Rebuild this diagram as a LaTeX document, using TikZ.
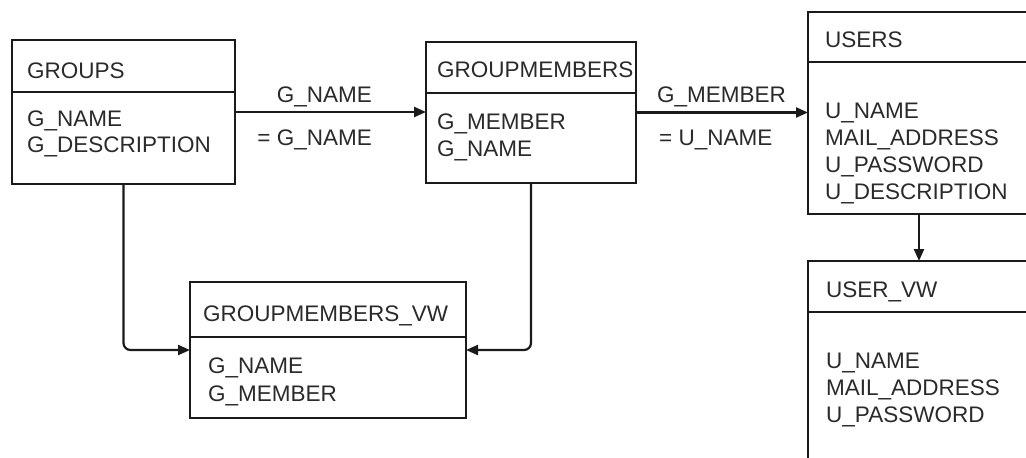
\documentclass[tikz,border=0pt]{standalone}
\usepackage{fontspec}
\setmainfont{Liberation Sans}
\usetikzlibrary{arrows.meta}
\definecolor{linec}{HTML}{1A1A1A}
\definecolor{txtc}{HTML}{2A2A2A}
\begin{document}
\begin{tikzpicture}[x=1pt,y=-1pt,
  tbl/.style={draw=linec, line width=2.2pt, rectangle, inner sep=0pt, outer sep=0pt, anchor=north west},
  lbl/.style={anchor=base west, text=txtc, inner sep=0pt, font=\fontsize{22.5}{27}\selectfont},
  lble/.style={lbl, anchor=base east},
  divl/.style={draw=linec, line width=2.2pt},
  conn/.style={draw=linec, line width=2.2pt, -{Triangle[length=12pt,width=10pt]}},
  elbow/.style={conn, rounded corners=7pt}]
\useasboundingbox (0,0) rectangle (1026,458);
\clip (0,0) rectangle (1026,458);
\fill[white] (0,0) rectangle (1026,458);

% GROUPS
\node[tbl, minimum width=223pt, minimum height=144pt] (groups) at (12,40) {};
\draw[divl] (12,92) -- (235,92);
\node[lbl] (groups-t) at (27,78) {GROUPS};
\node[lbl] (groups-f1) at (27,126) {G\_NAME};
\node[lbl] (groups-f2) at (27,152) {G\_DESCRIPTION};

% GROUPMEMBERS
\node[tbl, minimum width=210pt, minimum height=141pt] (gm) at (426,42) {};
\draw[divl] (426,93) -- (636,93);
\node[lbl] (gm-t) at (437,77) {GROUPMEMBERS};
\node[lbl] (gm-f1) at (437,129) {G\_MEMBER};
\node[lbl] (gm-f2) at (437,156) {G\_NAME};

% USERS
\node[tbl, minimum width=222pt, minimum height=202pt] (users) at (808,12) {};
\draw[divl] (808,62) -- (1030,62);
\node[lbl] (users-t) at (825,47) {USERS};
\node[lbl] (users-f1) at (825,118) {U\_NAME};
\node[lbl] (users-f2) at (825,145) {MAIL\_ADDRESS};
\node[lbl] (users-f3) at (825,172) {U\_PASSWORD};
\node[lbl] (users-f4) at (825,199) {U\_DESCRIPTION};

% USER_VW
\node[tbl, minimum width=222pt, minimum height=230pt] (uvw) at (808,261) {};
\draw[divl] (808,312) -- (1030,312);
\node[lbl] (uvw-t) at (826,297) {USER\_VW};
\node[lbl] (uvw-f1) at (826,368) {U\_NAME};
\node[lbl] (uvw-f2) at (826,395) {MAIL\_ADDRESS};
\node[lbl] (uvw-f3) at (826,422) {U\_PASSWORD};

% GROUPMEMBERS_VW
\node[tbl, minimum width=276pt, minimum height=136pt] (gmvw) at (190,282) {};
\draw[divl] (190,337) -- (466,337);
\node[lbl] (gmvw-t) at (203,321) {GROUPMEMBERS\_VW};
\node[lbl] (gmvw-f1) at (208,373) {G\_NAME};
\node[lbl] (gmvw-f2) at (208,401) {G\_MEMBER};

% connectors
\draw[conn] (groups.east) -- (groups.east -| gm.west);
\node[lble] (l1a) at (372,102) {G\_NAME};
\node[lble] (l1b) at (372,145) {= G\_NAME};

\draw[conn] (gm.east) -- (gm.east -| users.west);
\node[lbl] (l2a) at (657,102) {G\_MEMBER};
\node[lbl] (l2b) at (659,145) {= U\_NAME};

\draw[conn] (users.south) -- (uvw.north);

\draw[elbow] (groups.south) |- (gmvw.west);
\draw[elbow] (gm.south) |- (gmvw.east);
\end{tikzpicture}
\end{document}
